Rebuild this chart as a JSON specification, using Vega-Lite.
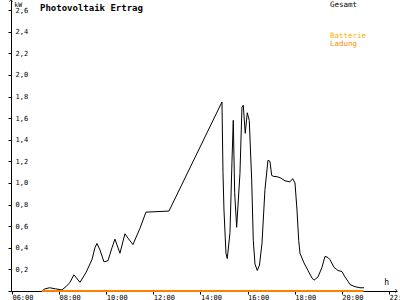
{
  "$schema": "https://vega.github.io/schema/vega-lite/v6.json",
  "width": 386,
  "height": 291,
  "autosize": "none",
  "padding": {"left": 11, "right": 3, "top": 0, "bottom": 9},
  "background": "white",
  "config": {"view": {"stroke": null}, "font": "DejaVu Sans Mono", "axis": {"labelOverlap": false, "labelBound": false, "labelFlush": false}},
  "data": {"values": [
    {"series": "Gesamt", "t": 7.273, "v": 0.0},
    {"series": "Gesamt", "t": 7.40, "v": 0.02},
    {"series": "Gesamt", "t": 7.60, "v": 0.03},
    {"series": "Gesamt", "t": 7.85, "v": 0.02},
    {"series": "Gesamt", "t": 8.12, "v": 0.01},
    {"series": "Gesamt", "t": 8.292, "v": 0.04},
    {"series": "Gesamt", "t": 8.462, "v": 0.08},
    {"series": "Gesamt", "t": 8.631, "v": 0.15},
    {"series": "Gesamt", "t": 8.886, "v": 0.08},
    {"series": "Gesamt", "t": 9.141, "v": 0.17},
    {"series": "Gesamt", "t": 9.395, "v": 0.29},
    {"series": "Gesamt", "t": 9.522, "v": 0.40},
    {"series": "Gesamt", "t": 9.607, "v": 0.44},
    {"series": "Gesamt", "t": 9.735, "v": 0.38},
    {"series": "Gesamt", "t": 9.904, "v": 0.27},
    {"series": "Gesamt", "t": 10.074, "v": 0.28},
    {"series": "Gesamt", "t": 10.244, "v": 0.40},
    {"series": "Gesamt", "t": 10.371, "v": 0.48},
    {"series": "Gesamt", "t": 10.584, "v": 0.35},
    {"series": "Gesamt", "t": 10.796, "v": 0.53},
    {"series": "Gesamt", "t": 10.923, "v": 0.49},
    {"series": "Gesamt", "t": 11.135, "v": 0.43},
    {"series": "Gesamt", "t": 11.432, "v": 0.58},
    {"series": "Gesamt", "t": 11.687, "v": 0.73},
    {"series": "Gesamt", "t": 12.663, "v": 0.74},
    {"series": "Gesamt", "t": 14.913, "v": 1.75},
    {"series": "Gesamt", "t": 14.955, "v": 1.10},
    {"series": "Gesamt", "t": 14.998, "v": 0.75},
    {"series": "Gesamt", "t": 15.082, "v": 0.35},
    {"series": "Gesamt", "t": 15.137, "v": 0.30},
    {"series": "Gesamt", "t": 15.252, "v": 0.54},
    {"series": "Gesamt", "t": 15.337, "v": 1.20},
    {"series": "Gesamt", "t": 15.392, "v": 1.58},
    {"series": "Gesamt", "t": 15.451, "v": 0.91},
    {"series": "Gesamt", "t": 15.536, "v": 0.59},
    {"series": "Gesamt", "t": 15.676, "v": 1.09},
    {"series": "Gesamt", "t": 15.761, "v": 1.70},
    {"series": "Gesamt", "t": 15.816, "v": 1.72},
    {"series": "Gesamt", "t": 15.901, "v": 1.46},
    {"series": "Gesamt", "t": 15.986, "v": 1.65},
    {"series": "Gesamt", "t": 16.071, "v": 1.58},
    {"series": "Gesamt", "t": 16.173, "v": 1.03},
    {"series": "Gesamt", "t": 16.241, "v": 0.47},
    {"series": "Gesamt", "t": 16.313, "v": 0.25},
    {"series": "Gesamt", "t": 16.411, "v": 0.19},
    {"series": "Gesamt", "t": 16.504, "v": 0.24},
    {"series": "Gesamt", "t": 16.610, "v": 0.44},
    {"series": "Gesamt", "t": 16.737, "v": 0.94},
    {"series": "Gesamt", "t": 16.865, "v": 1.21},
    {"series": "Gesamt", "t": 16.950, "v": 1.20},
    {"series": "Gesamt", "t": 17.022, "v": 1.07},
    {"series": "Gesamt", "t": 17.119, "v": 1.06},
    {"series": "Gesamt", "t": 17.204, "v": 1.06},
    {"series": "Gesamt", "t": 17.374, "v": 1.05},
    {"series": "Gesamt", "t": 17.586, "v": 1.02},
    {"series": "Gesamt", "t": 17.798, "v": 1.01},
    {"series": "Gesamt", "t": 17.913, "v": 1.04},
    {"series": "Gesamt", "t": 18.011, "v": 1.00},
    {"series": "Gesamt", "t": 18.096, "v": 0.75},
    {"series": "Gesamt", "t": 18.168, "v": 0.47},
    {"series": "Gesamt", "t": 18.223, "v": 0.35},
    {"series": "Gesamt", "t": 18.393, "v": 0.26},
    {"series": "Gesamt", "t": 18.562, "v": 0.19},
    {"series": "Gesamt", "t": 18.732, "v": 0.12},
    {"series": "Gesamt", "t": 18.817, "v": 0.10},
    {"series": "Gesamt", "t": 18.987, "v": 0.13},
    {"series": "Gesamt", "t": 19.157, "v": 0.22},
    {"series": "Gesamt", "t": 19.284, "v": 0.32},
    {"series": "Gesamt", "t": 19.411, "v": 0.31},
    {"series": "Gesamt", "t": 19.496, "v": 0.29},
    {"series": "Gesamt", "t": 19.666, "v": 0.22},
    {"series": "Gesamt", "t": 19.836, "v": 0.19},
    {"series": "Gesamt", "t": 20.005, "v": 0.18},
    {"series": "Gesamt", "t": 20.133, "v": 0.13},
    {"series": "Gesamt", "t": 20.260, "v": 0.09},
    {"series": "Gesamt", "t": 20.345, "v": 0.06},
    {"series": "Gesamt", "t": 20.557, "v": 0.04},
    {"series": "Gesamt", "t": 20.769, "v": 0.03},
    {"series": "Gesamt", "t": 20.939, "v": 0.03},
    {"series": "Ladung", "t": 7.27, "v": 0.0},
    {"series": "Ladung", "t": 20.92, "v": 0.0}
  ]},
  "layer": [
    {
      "mark": {"type": "line", "clip": false},
      "encoding": {
        "x": {"field": "t", "type": "quantitative", "scale": {"domain": [5.96, 22.34], "nice": false, "zero": false},
          "axis": {"values": [6, 8, 10, 12, 14, 16, 18, 20, 22], "tickCount": 30, "labelExpr": "(datum.value < 10 ? '0' : '') + datum.value + ':00'", "title": null, "grid": false, "domainColor": "black", "tickColor": "black", "tickSize": 3, "labelAlign": "left", "labelPadding": 5, "labelFontSize": 7, "labelColor": "black", "labelFont": "DejaVu Sans Mono", "labelBaseline": "alphabetic", "labelOverlap": false, "labelBound": false, "zindex": 0}},
        "y": {"field": "v", "type": "quantitative", "scale": {"domain": [0, 2.694], "nice": false},
          "axis": {"values": [0, 0.2, 0.4, 0.6, 0.8, 1.0, 1.2, 1.4, 1.6, 1.8, 2.0, 2.2, 2.4, 2.6], "tickCount": 30, "labelExpr": "datum.value == 0 ? '' : replace(format(datum.value, '.1f'), '.', ',')", "title": null, "grid": false, "domainColor": "black", "tickColor": "black", "tickSize": 3, "labelAlign": "left", "labelPadding": -7, "labelFontSize": 7, "labelColor": "black", "labelFont": "DejaVu Sans Mono", "labelBaseline": "middle", "labelOverlap": false, "labelBound": false, "zindex": 0}},
        "color": {"field": "series", "type": "nominal", "scale": {"domain": ["Gesamt", "Ladung"], "range": ["black", "#ff8000"]}, "legend": null},
        "strokeWidth": {"field": "series", "type": "nominal", "scale": {"domain": ["Gesamt", "Ladung"], "range": [1, 2]}, "legend": null}
      }
    },
    {
      "data": {"values": [{}]},
      "mark": {"type": "text", "align": "left", "baseline": "alphabetic", "fontSize": 9, "fontWeight": "bold", "font": "DejaVu Sans Mono", "color": "black"},
      "encoding": {"x": {"datum": 7.19}, "y": {"datum": 2.593}, "text": {"value": "Photovoltaik Ertrag"}}
    },
    {
      "data": {"values": [{}]},
      "mark": {"type": "text", "align": "left", "baseline": "alphabetic", "fontSize": 7.5, "font": "DejaVu Sans Mono", "color": "black"},
      "encoding": {"x": {"datum": 19.496}, "y": {"datum": 2.625}, "text": {"value": "Gesamt"}}
    },
    {
      "data": {"values": [{}]},
      "mark": {"type": "text", "align": "left", "baseline": "alphabetic", "fontSize": 7.5, "font": "DejaVu Sans Mono", "color": "#ffb000"},
      "encoding": {"x": {"datum": 19.496}, "y": {"datum": 2.338}, "text": {"value": "Batterie"}}
    },
    {
      "data": {"values": [{}]},
      "mark": {"type": "text", "align": "left", "baseline": "alphabetic", "fontSize": 7.5, "font": "DejaVu Sans Mono", "color": "#ff8c00"},
      "encoding": {"x": {"datum": 19.496}, "y": {"datum": 2.264}, "text": {"value": "Ladung"}}
    },
    {
      "data": {"values": [{}]},
      "mark": {"type": "text", "align": "left", "baseline": "alphabetic", "fontSize": 6.5, "font": "DejaVu Sans Mono", "color": "black"},
      "encoding": {"x": {"datum": 6.1}, "y": {"datum": 2.63}, "text": {"value": "kW"}}
    },
    {
      "data": {"values": [{}]},
      "mark": {"type": "text", "align": "left", "baseline": "alphabetic", "fontSize": 8, "font": "DejaVu Sans Mono", "color": "black"},
      "encoding": {"x": {"datum": 21.8}, "y": {"datum": 0.056}, "text": {"value": "h"}}
    },
    {
      "data": {"values": [{}]},
      "mark": {"type": "point", "shape": "M -0.5 -0.6 L 0 0 L -0.5 0.6", "filled": false, "stroke": "black", "strokeWidth": 1, "size": 40, "clip": false},
      "encoding": {"x": {"datum": 22.34}, "y": {"datum": 0}}
    },
    {
      "data": {"values": [{}]},
      "mark": {"type": "point", "shape": "M -0.6 0.5 L 0 0 L 0.6 0.5", "filled": false, "stroke": "black", "strokeWidth": 1, "size": 40, "clip": false},
      "encoding": {"x": {"datum": 5.96}, "y": {"datum": 2.694}}
    }
  ]
}
